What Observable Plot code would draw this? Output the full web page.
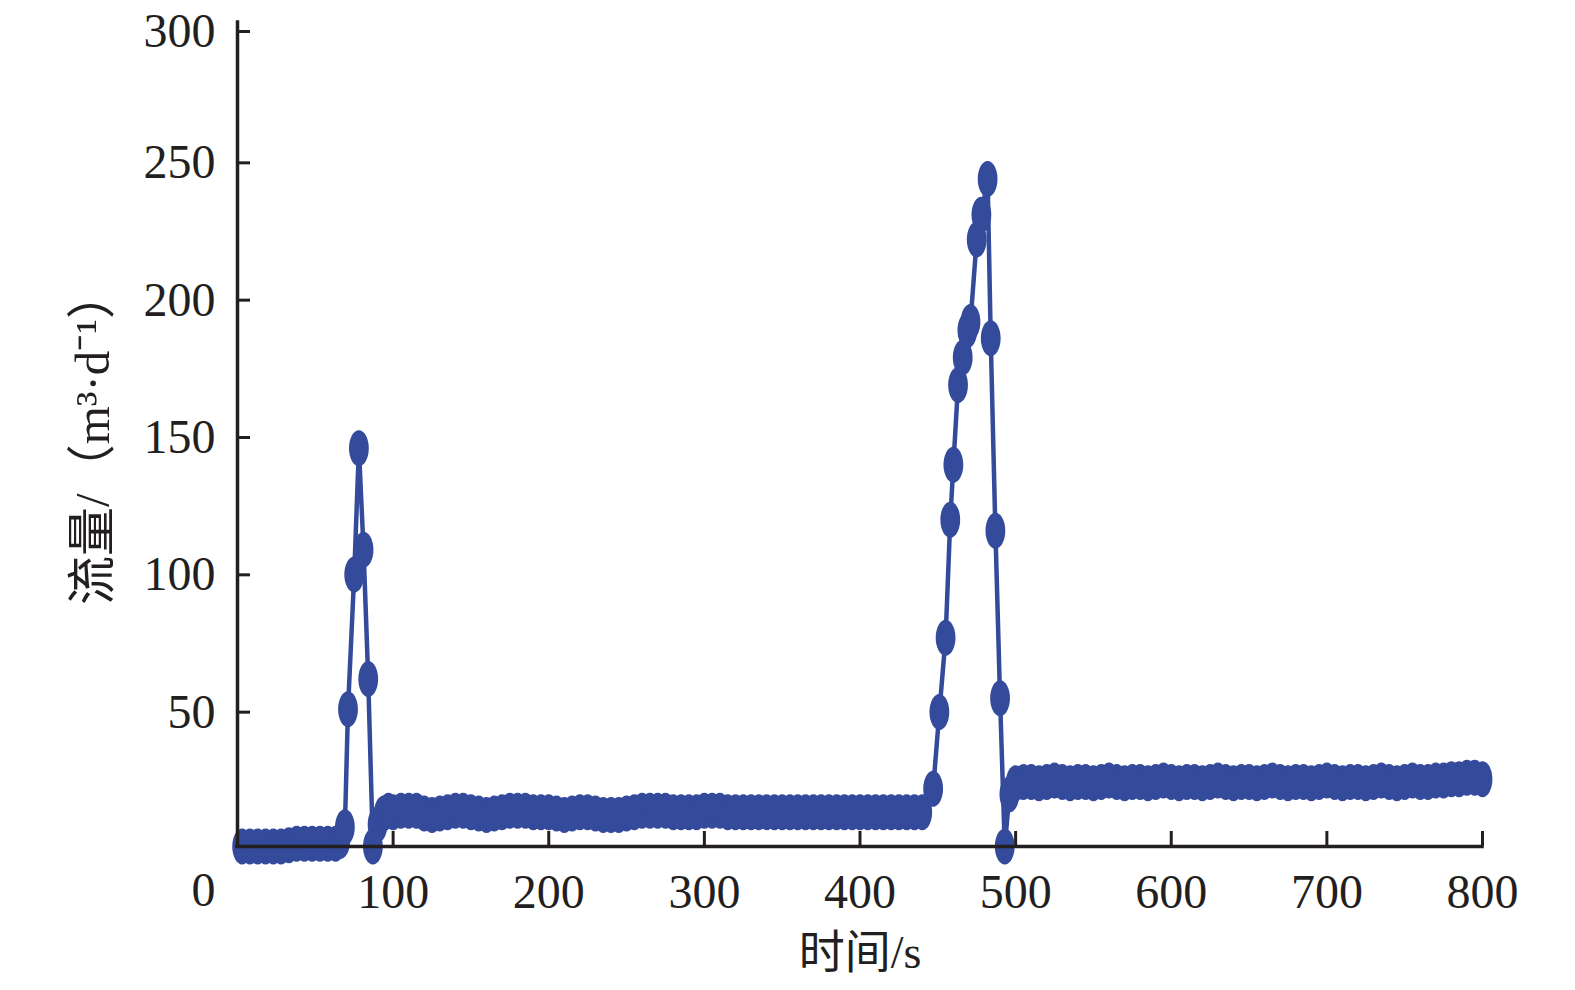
<!DOCTYPE html>
<html>
<head>
<meta charset="utf-8">
<script src="https://cdn.jsdelivr.net/npm/d3@7"></script>
<script src="https://cdn.jsdelivr.net/npm/@observablehq/plot@0.6"></script>
<style>
  html, body { margin: 0; padding: 0; background: #fff; overflow: hidden; }
  #chart svg { display: block; }
</style>
</head>
<body>
<div id="chart"></div>
<script>
// ---- data ----
const time = [
  3, 8, 13, 18, 23, 28, 33, 38, 43, 48, 53, 58, 63, 66,
  69, 71, 75, 78, 81, 84, 87, 90, 94, 97,
  100, 105, 110, 115, 120, 125, 130, 135, 140, 145, 150, 155, 160, 165, 170, 175,
  180, 185, 190, 195, 200, 205, 210, 215, 220, 225, 230, 235, 240, 245, 250, 255,
  260, 265, 270, 275, 280, 285, 290, 295, 300, 305, 310, 315, 320, 325, 330, 335,
  340, 345, 350, 355, 360, 365, 370, 375, 380, 385, 390, 395, 400, 405, 410, 415,
  420, 425, 430, 435, 440,
  447, 451, 455, 458, 460, 463, 466, 469, 471, 475, 478, 482, 484, 487, 490, 493, 496,
  500, 505, 510, 515, 520, 525, 530, 535, 540, 545, 550, 555, 560, 565, 570, 575,
  580, 585, 590, 595, 600, 605, 610, 615, 620, 625, 630, 635, 640, 645, 650, 655,
  660, 665, 670, 675, 680, 685, 690, 695, 700, 705, 710, 715, 720, 725, 730, 735,
  740, 745, 750, 755, 760, 765, 770, 775, 780, 785, 790, 795, 800
];
const flow = [
  0, 0, 0, 0, 0, 0, 0.5, 1, 1, 1, 1, 1, 1, 2,
  7, 50, 99, 145, 108, 61, 0, 8, 12, 13,
  12.5, 13, 13, 13, 12, 11.5, 12, 12.5, 13, 13,
  12.5, 12, 11.5, 12, 12.5, 13, 13, 13, 12.5, 12.5,
  12.5, 12, 11.5, 12, 12.5, 12.5, 12, 11.5, 11.5, 11.5,
  12, 12.5, 13, 13, 13, 13, 12.5, 12.5, 12.5, 12.5,
  13, 13, 13, 12.5, 12.5, 12.5, 12.5, 12.5, 12.5, 12.5,
  12.5, 12.5, 12.5, 12.5, 12.5, 12.5, 12.5, 12.5, 12.5, 12.5,
  12.5, 12.5, 12.5, 12.5, 12.5, 12.5, 12.5, 12.5, 12.5,
  21, 49, 76, 119, 139, 168, 178, 188, 191, 221, 230, 243, 185, 115, 54, 0, 19,
  23, 23.5, 23.5, 23, 23.5, 24, 23.5, 23, 23.5, 23.5,
  23, 23.5, 24, 23.5, 23, 23.5, 23.5, 23, 23.5, 24,
  23.5, 23, 23.5, 23.5, 23, 23.5, 24, 23.5, 23, 23.5,
  23.5, 23, 23.5, 24, 23.5, 23, 23.5, 23.5, 23, 23.5,
  24, 23.5, 23, 23.5, 23.5, 23, 23.5, 24, 23.5, 23,
  23.5, 24, 23.5, 23.5, 24, 24, 24.5, 24.5, 25, 25, 24.5
];
const xTicks = [100, 200, 300, 400, 500, 600, 700, 800];
const yTicks = [50, 100, 150, 200, 250];
const yTopTick = [300];
const originLabel = ["0"];
const xTitle = ["时间/s"];
const yTitle = ["流量/（m³·d⁻¹）"];

const points = time.map((t, i) => ({t, v: flow[i]}));

// ellipse-shaped marker (taller than wide)
const ellipse = {
  draw(ctx, size) {
    const r = Math.sqrt(size / Math.PI);
    const rx = r * 0.55, ry = r, k = 0.5523;
    ctx.moveTo(rx, 0);
    ctx.bezierCurveTo(rx, k * ry, k * rx, ry, 0, ry);
    ctx.bezierCurveTo(-k * rx, ry, -rx, k * ry, -rx, 0);
    ctx.bezierCurveTo(-rx, -k * ry, -k * rx, -ry, 0, -ry);
    ctx.bezierCurveTo(k * rx, -ry, rx, -k * ry, rx, 0);
    ctx.closePath();
  }
};

const blue = "#344a9b";
const ink = "#231f20";
const font = "'Liberation Serif', 'Times New Roman', 'Noto Sans CJK SC', serif";
const yAxisOpts = {tickSize: -13, tickPadding: 35, strokeWidth: 3, stroke: ink, fontSize: 48, label: null, tickFormat: d => String(d)};

const chart = Plot.plot({
  width: 1575,
  height: 990,
  marginLeft: 237,
  marginRight: 93,
  marginTop: 22,
  marginBottom: 144,
  x: {domain: [0, 800]},
  y: {domain: [0, 300]},
  style: {fontFamily: font, fontSize: "48px", color: ink, background: "#fff"},
  marks: [
    Plot.line(points, {x: "t", y: "v", stroke: blue, strokeWidth: 4.5}),
    Plot.dot(points, {x: "t", y: "v", symbol: ellipse, r: 18, fill: blue, stroke: "none"}),
    Plot.ruleX([0], {stroke: ink, strokeWidth: 3.5, strokeLinecap: "square"}),
    Plot.ruleY([0], {stroke: ink, strokeWidth: 3.5, strokeLinecap: "square"}),
    Plot.axisX(xTicks, {tickSize: -15, tickPadding: 42, strokeWidth: 3, stroke: ink, fontSize: 48, label: null, tickFormat: d => String(d)}),
    Plot.axisY(yTicks, {...yAxisOpts, dy: 3}),
    Plot.axisY(yTopTick, {...yAxisOpts, dy: 9}),
    Plot.text(originLabel, {x: 0, y: 0, text: d => d, dx: -34, dy: 44, fontSize: 48, fill: ink}),
    Plot.text(xTitle, {frameAnchor: "bottom", text: d => d, lineAnchor: "middle", textAnchor: "middle", dy: 107, fontSize: 46, fill: ink}),
    Plot.text(yTitle, {frameAnchor: "left", text: d => d, lineAnchor: "middle", textAnchor: "middle", rotate: -90, dx: -144, dy: 3, fontSize: 49, fill: ink})
  ]
});
document.getElementById("chart").appendChild(chart);
</script>
</body>
</html>
